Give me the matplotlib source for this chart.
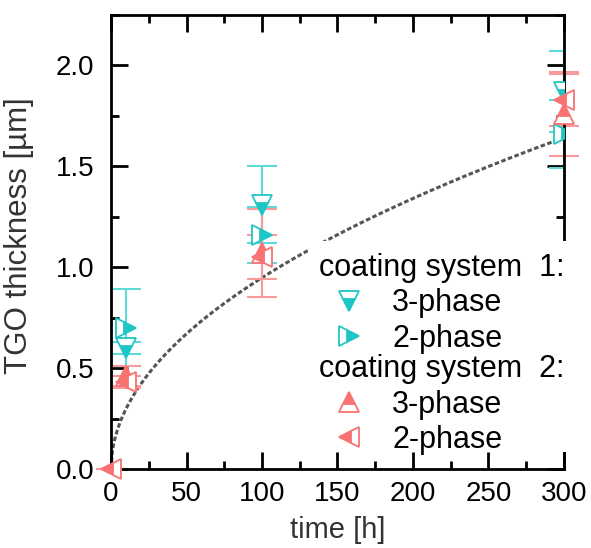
import matplotlib
matplotlib.use("Agg")
import matplotlib.pyplot as plt
from matplotlib.lines import Line2D
from matplotlib.patches import Rectangle
from matplotlib.ticker import MultipleLocator
import numpy as np

plt.rcParams['font.family'] = ['Liberation Sans', 'DejaVu Sans']
plt.rcParams['font.size'] = 20

# oxidation times [h] and TGO thickness [µm] with standard deviations
t_s1_3 = [10, 100, 300]
d_s1_3 = [0.60, 1.31, 1.87]
e_s1_3 = [0.03, 0.19, 0.20]

t_s1_2 = [0, 10, 100, 300]
d_s1_2 = [0.0, 0.70, 1.16, 1.66]
e_s1_2 = [0.0, 0.19, 0.14, 0.17]

t_s2_3 = [10, 100, 300]
d_s2_3 = [0.46, 1.07, 1.76]
e_s2_3 = [0.05, 0.22, 0.21]

t_s2_2 = [0, 10, 100, 300]
d_s2_2 = [0.0, 0.43, 1.05, 1.83]
e_s2_2 = [0.0, 0.03, 0.11, 0.13]

# parabolic growth law d = k * sqrt(t)
k_par = 0.0948

cyan = '#1fc6c6'
red = '#f87272'
cyan_err = '#5fd8d8'
red_err = '#f89a9a'

fig = plt.figure(figsize=(5.91, 5.48), dpi=100)
ax = fig.add_axes([0.188, 0.1442, 0.766, 0.8284])

tt = np.linspace(0, 300, 400)
ax.plot(tt, k_par*np.sqrt(tt), color='#555555', lw=2.2, ls=(0, (1.5, 0.8)), zorder=1)

def series(t, d, e, mk, fs, col, ecol, clip):
    ax.errorbar(t, d, yerr=e, fmt='none', ecolor=ecol, elinewidth=1.5,
                capsize=11, capthick=1.5, zorder=2, clip_on=clip)
    ax.plot(t, d, ls='none', marker=mk, fillstyle=fs, markersize=14,
            color=col, markerfacecoloralt='white', markeredgewidth=1.3,
            zorder=3, clip_on=clip)

series(t_s1_3, d_s1_3, e_s1_3, 'v', 'bottom', cyan, cyan_err, True)
series(t_s1_2, d_s1_2, e_s1_2, '>', 'right', cyan, cyan_err, True)
series(t_s2_3, d_s2_3, e_s2_3, '^', 'top', red, red_err, False)
series(t_s2_2, d_s2_2, e_s2_2, '<', 'left', red, red_err, False)

ax.set_xlim(0, 300)
ax.set_ylim(0, 2.25)
ax.xaxis.set_major_locator(MultipleLocator(50))
ax.xaxis.set_minor_locator(MultipleLocator(25))
ax.yaxis.set_major_locator(MultipleLocator(0.5))
ax.yaxis.set_minor_locator(MultipleLocator(0.25))
ax.tick_params(which='both', direction='in', top=True, right=True, width=2)
ax.tick_params(which='major', length=12)
ax.tick_params(which='minor', length=6)
ax.tick_params(axis='y', pad=12)
ax.tick_params(axis='x', pad=9)
ax.yaxis.set_major_formatter(plt.FormatStrFormatter('%.1f'))
for s in ax.spines.values():
    s.set_linewidth(2)

ax.set_xlabel('time [h]', color='#333333', fontsize=21, labelpad=6)
ax.set_ylabel('TGO thickness [µm]', color='#333333', fontsize=22.5)
ax.yaxis.set_label_coords(-0.17, 0.515)

# white box behind both legends, covering the curve and the right spine
ax.add_patch(Rectangle((0.435, 0.037), 0.611, 0.465, transform=ax.transAxes,
                       facecolor='white', edgecolor='none', zorder=4.5,
                       clip_on=False))

def mk_handle(mk, fs, col):
    return Line2D([], [], ls='none', marker=mk, fillstyle=fs, markersize=14,
                  color=col, markerfacecoloralt='white', markeredgewidth=1.3)

leg_kw = dict(frameon=False, loc='upper left', handlelength=1.96,
              handletextpad=0.42, labelspacing=0.18, borderpad=0,
              borderaxespad=0, alignment='left', numpoints=1,
              fontsize=22, title_fontsize=22)
leg1 = ax.legend([mk_handle('v', 'bottom', cyan), mk_handle('>', 'right', cyan)],
                 ['3-phase', '2-phase'], title='coating system  1:',
                 bbox_to_anchor=(0.46, 0.476), **leg_kw)
ax.add_artist(leg1)
ax.legend([mk_handle('^', 'top', red), mk_handle('<', 'left', red)],
          ['3-phase', '2-phase'], title='coating system  2:',
          bbox_to_anchor=(0.46, 0.253), **leg_kw)

fig.savefig('out.png', dpi=100)
